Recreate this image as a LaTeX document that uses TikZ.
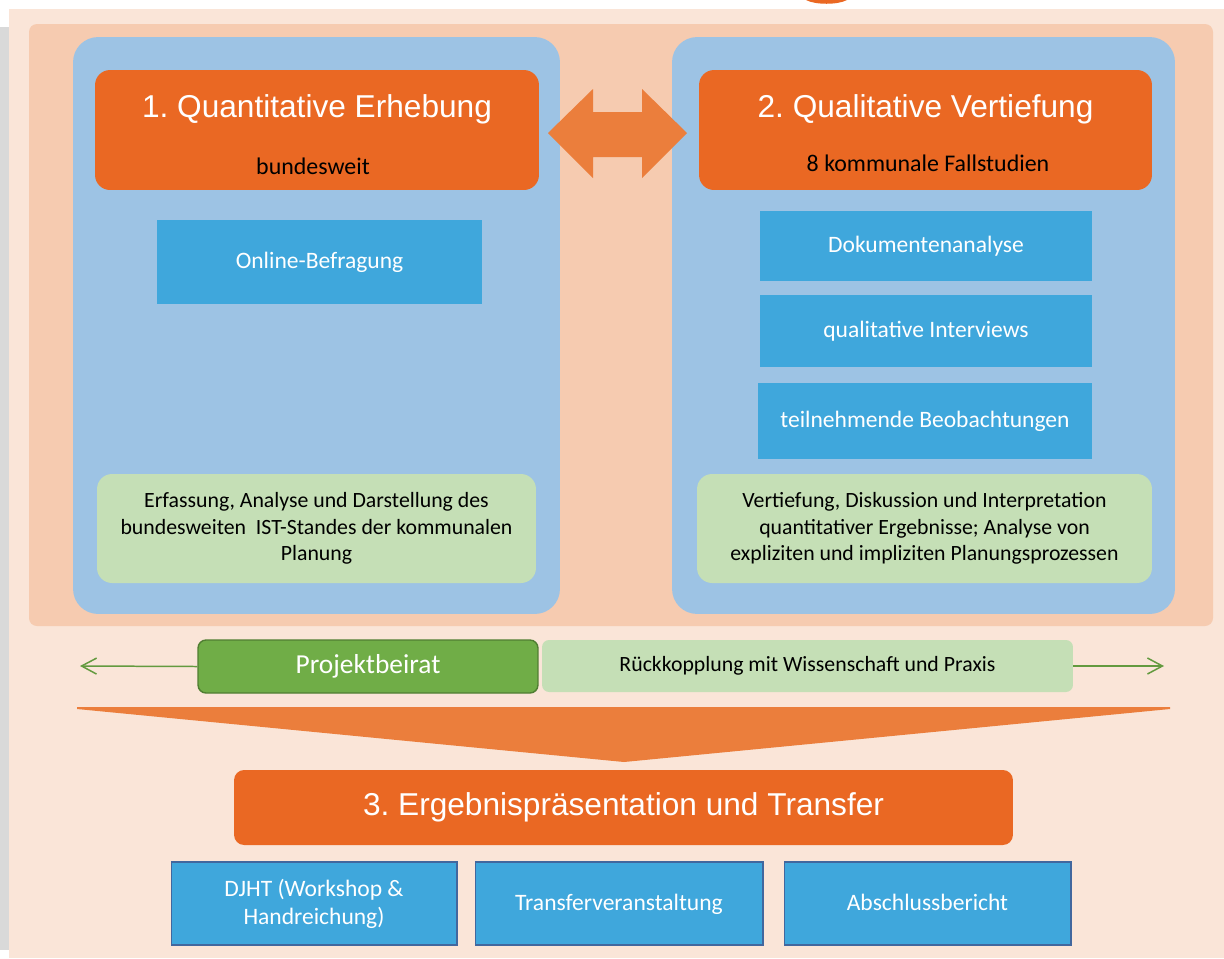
\documentclass[tikz,border=0pt]{standalone}
\usepackage{fontspec}
\setmainfont{Carlito}
\newfontfamily\titlefont{Liberation Sans}
\usetikzlibrary{arrows.meta}
\frenchspacing
\definecolor{bgpeach}{HTML}{FAE5D8}
\definecolor{midpeach}{HTML}{F6CBB0}
\definecolor{panelblue}{HTML}{9DC3E4}
\definecolor{hdrorange}{HTML}{EA6823}
\definecolor{arrorange}{HTML}{EB7E3C}
\definecolor{boxblue}{HTML}{3FA7DC}
\definecolor{boxline}{HTML}{41679E}
\definecolor{lightgreen}{HTML}{C5DFB6}
\definecolor{darkgreen}{HTML}{70AD47}
\definecolor{greenline}{HTML}{507E32}
\definecolor{stripgray}{HTML}{D9D9D9}
\begin{document}
\begin{tikzpicture}[x=0.02cm, y=-0.02cm,
        panel/.style = {fill=panelblue, rounded corners=0.5cm, inner sep=0pt},
        header/.style = {fill=hdrorange, rounded corners=0.3cm, inner sep=0pt},
        titletext/.style = {text=white, anchor=base, font=\titlefont\fontsize{18}{22}\selectfont, inner sep=0pt},
        subtext/.style = {text=black, anchor=base, font=\fontsize{13.6}{16}\selectfont, inner sep=0pt},
        method/.style = {fill=boxblue, text=white, inner sep=0pt, align=center, font=\fontsize{13.4}{16}\selectfont},
        output/.style = {method, draw=boxline, line width=0.6pt},
        aim/.style = {fill=lightgreen, rounded corners=0.3cm, inner sep=0pt, align=center, font=\fontsize{12.4}{15}\selectfont},
        feedback/.style = {draw=greenline!40!darkgreen, line width=0.85pt, -{Straight Barb[length=0.3cm, width=0.32cm]}}]
        \useasboundingbox (0,0) rectangle (1224,958);
        \fill [stripgray] (0,27) rectangle (9,950);
        \fill [bgpeach] (9,9) rectangle (1224,958);
        \fill [hdrorange] (806,0) .. controls (815,5) and (838,5) .. (847,0) -- cycle;
        \fill [midpeach, rounded corners=0.16cm] (29,24) rectangle (1213,626);
        \node [panel, minimum width=9.74cm, minimum height=11.54cm] (quantpanel) at (316.5,325.5) {};
        \node [panel, minimum width=10.06cm, minimum height=11.54cm] (qualpanel) at (923.5,325.5) {};
        \node [header, minimum width=8.88cm, minimum height=2.4cm] (quant) at (317,130) {};
        \node [header, minimum width=9.06cm, minimum height=2.4cm] (qual) at (925.5,130) {};
        \node [titletext] (quanttitle) at (317,117) {1. Quantitative Erhebung};
        \node [subtext] (quantsub) at (313,174) {bundesweit};
        \node [titletext] (qualtitle) at (925.5,117) {2. Qualitative Vertiefung};
        \node [subtext] (qualsub) at (928,171) {8 kommunale Fallstudien};
        \fill [arrorange] (548,133) -- (593,89) -- (593,112) -- (642,112) -- (642,89) -- (687,133)
                -- (642,178) -- (642,157) -- (593,157) -- (593,178) -- cycle;
        \node [method, minimum width=6.5cm, minimum height=1.68cm] (online) at (319.5,262) {Online-Befragung};
        \node [method, minimum width=6.64cm, minimum height=1.4cm] (dokument) at (926,246) {Dokumentenanalyse};
        \node [method, minimum width=6.64cm, minimum height=1.44cm] (interview) at (926,331) {qualitative Interviews};
        \node [method, minimum width=6.68cm, minimum height=1.52cm] (beobacht) at (925,421) {teilnehmende Beobachtungen};
        \node [aim, minimum width=8.78cm, minimum height=2.18cm] (quantaim) at (316.5,528.5)
                {Erfassung, Analyse und Darstellung des\\bundesweiten\ \ IST-Standes der kommunalen\\Planung};
        \node [aim, minimum width=9.1cm, minimum height=2.18cm] (qualaim) at (924.5,528.5)
                {Vertiefung, Diskussion und Interpretation\\quantitativer Ergebnisse; Analyse von\\expliziten und impliziten Planungsprozessen};
        \node [fill=darkgreen, draw=greenline, line width=0.8pt, rounded corners=0.16cm, text=white,
                minimum width=6.8cm, minimum height=1.06cm, inner sep=0pt,
                font=\fontsize{15.6}{18}\selectfont] (beirat) at (368,666.5) {Projektbeirat};
        \node [fill=lightgreen, rounded corners=0.14cm, minimum width=10.62cm, minimum height=1.04cm, inner sep=0pt,
                font=\fontsize{12.4}{15}\selectfont] (rueck) at (807.5,666) {Rückkopplung mit Wissenschaft und Praxis};
        \coordinate (leftend) at (80,666);
        \coordinate (rightend) at (1164,666);
        \draw [feedback] (beirat.west) -- (leftend);
        \draw [feedback] (rueck.east) -- (rightend);
        \fill [arrorange] (77,707) -- (1170,707) -- (1170,709) -- (624,762) -- (77,709) -- cycle;
        \node [header, minimum width=15.58cm, minimum height=1.5cm, rounded corners=0.2cm, text=white,
                font=\titlefont\fontsize{18}{22}\selectfont] (transfer) at (623.5,807.5) {3. Ergebnispräsentation und Transfer};
        \node [output, minimum width=5.72cm, minimum height=1.66cm, font=\fontsize{13.4}{15.9}\selectfont] (djht) at (314,903.5)
                {DJHT (Workshop \&\\Handreichung)};
        \node [output, minimum width=5.76cm, minimum height=1.66cm, text depth=0.25ex] (veranst) at (619,903.5) {Transferveranstaltung};
        \node [output, minimum width=5.74cm, minimum height=1.66cm, text depth=0.25ex] (bericht) at (927.5,903.5) {Abschlussbericht};
\end{tikzpicture}
\end{document}
